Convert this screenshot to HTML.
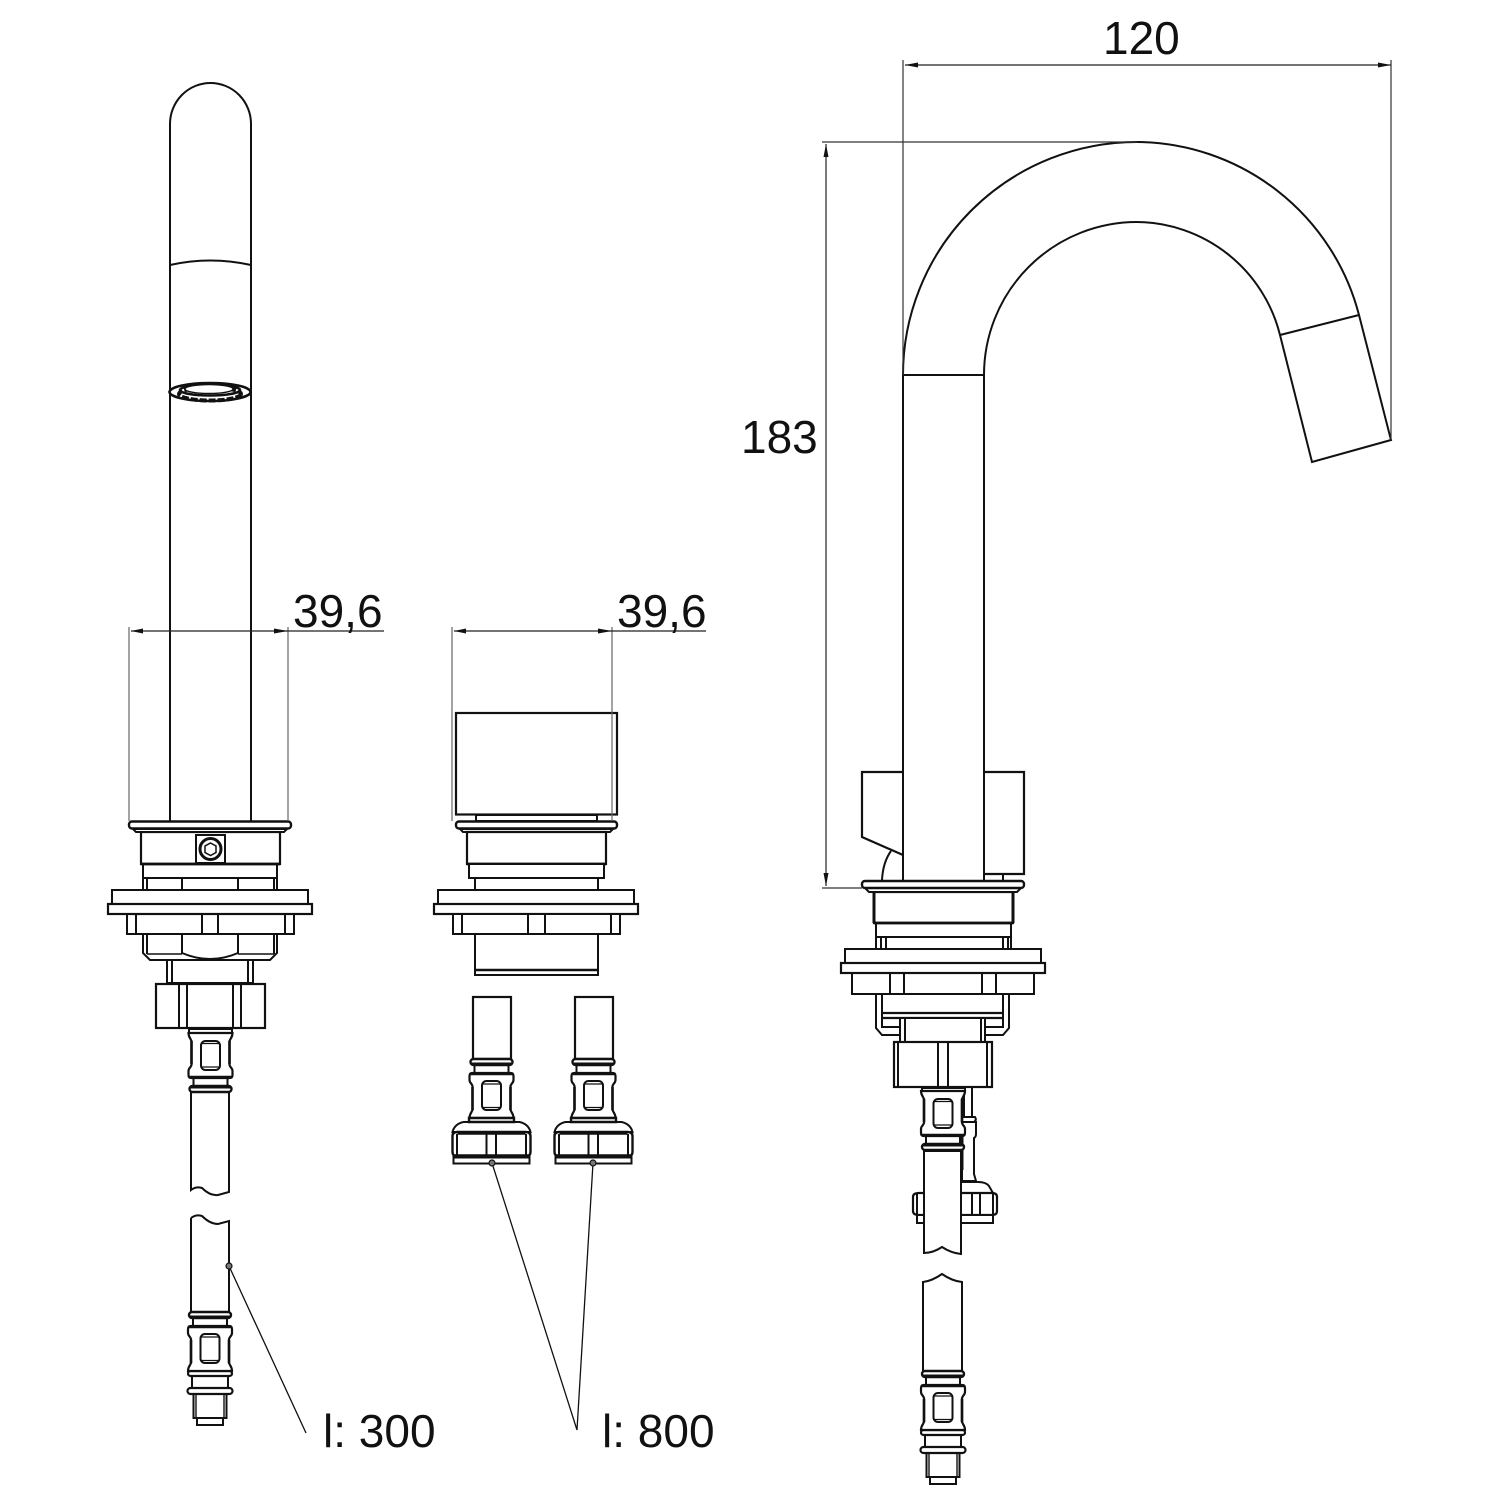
<!DOCTYPE html>
<html><head><meta charset="utf-8"><style>
html,body{margin:0;padding:0;background:#fff}
svg{display:block}
text{font-family:"Liberation Sans",sans-serif;font-size:46px;fill:#111}
</style></head><body>
<svg width="1500" height="1500" viewBox="0 0 1500 1500" xmlns="http://www.w3.org/2000/svg">
<defs>
<g id="c" fill="#fff" stroke="#111" stroke-width="2">
<path d="M-17 -8V1M17 -8V1" />
<path d="M-19 0H19Q22 0 22 3V7Q22 9 20 11L19 13V37L20 39Q22 42 22 45H-22Q-22 42 -20 39L-19 37V13L-20 11Q-22 9 -22 7V3Q-22 0 -19 0Z" stroke-width="2.2"/>
<path d="M-22 1H22" stroke-width="2.5"/>
<rect x="-21" y="-14" width="42" height="6" rx="3" stroke-width="2.4"/>
<path d="M-21 -9.5H21" stroke-width="2"/>
<rect x="-9.5" y="8" width="19" height="29" rx="4.5" stroke-width="2"/>
<path d="M-9 11H9M-9 34.5H9" stroke-width="1.2"/>
<path d="M-19 14V37M19 14V37" stroke-width="2.6"/>
</g>
<g id="tail" fill="#fff" stroke="#111" stroke-width="2">
<path d="M-16.5 66V92H16.5V66Z" stroke-width="2"/>
<path d="M-14 68V92M14 68V92" stroke-width="1.4"/>
<rect x="-13" y="92" width="26" height="7"/>
<path d="M-18 48V63M18 48V63"/>
<rect x="-22" y="45" width="44" height="5" rx="2.5" stroke-width="2.2"/>
<rect x="-22.5" y="62" width="45" height="6" rx="3" stroke-width="2.2"/>
</g>
<g id="nut" fill="#fff" stroke="#111" stroke-width="2">
<rect x="-38" y="1157" width="76" height="6.5"/>
<path d="M-28 1122H28Q37 1124 39 1132H-39Q-37 1124 -28 1122Z"/>
<path d="M-34 1132Q-39 1132 -39 1136V1152Q-39 1156 -34 1157H34Q39 1156 39 1152V1136Q39 1132 34 1132Z" stroke-width="2.4"/>
<path d="M-34.5 1134V1155M34.5 1134V1155M-5 1134V1155M4.5 1134V1155" stroke-width="2"/>
<path d="M-34 1133.500H34M-39 1155.500H39" stroke-width="2.400"/>
<path d="M-39 1157H38" stroke-width="3"/>
<path d="M-22.500 1118H22.500V1122H-22.500Z" stroke-width="2.400"/>
</g>
</defs>

<!-- Left spout -->
<g fill="none" stroke="#111" stroke-width="2">
<path d="M170 821V124A40.500 41 0 0 1 251 124V821"/>
<path d="M170 265Q210 256 251 265"/>
<ellipse cx="210" cy="392" rx="40.500" ry="9" stroke-width="2.600"/>
<ellipse cx="210" cy="394" rx="31" ry="6.500" stroke-width="4" stroke-dasharray="7 2"/>
<ellipse cx="210" cy="390" rx="30" ry="5.500" stroke-width="2.600"/>
<ellipse cx="209" cy="389" rx="24" ry="4.500" fill="#fff" stroke-width="1.400"/>
</g>

<!-- Left base -->
<g fill="#fff" stroke="#111" stroke-width="2">
<rect x="167" y="959" width="86" height="25"/><path d="M172 960V983M248 960V983" />
<path d="M143 934V953L150 960H270L277 953V934Z"/><path d="M147 934V954M182 934V954M238 934V954M274 934V954"/>
<path d="M182 953Q210 965 238 953" />
<path d="M147 954H182M238 954H274" stroke-width="1.500"/>
<rect x="127" y="914" width="167" height="20"/><path d="M136 914V934M202 914V934M218 914V934M285 914V934"/>
<rect x="143" y="864" width="134" height="26"/><path d="M143 878H277M147 878V890M182 878V890M238 878V890M274 878V890"/>
<rect x="112" y="890" width="196" height="14"/><rect x="108" y="904" width="204" height="10" stroke-width="2.200"/>
<path d="M141 832H280V864H141Z" stroke-width="2.200"/><path d="M141 864H280" stroke-width="2.800"/>
<rect x="196" y="835" width="29" height="28"/><circle cx="210.500" cy="849" r="10.500" stroke-width="3"/><path d="M210.500 843L216 846V852.500L210.500 855.500L205 852.500V846Z" stroke-width="1.500"/>
<path d="M133 829H287L284 832H136Z"/>
<rect x="129" y="821.500" width="162" height="7" rx="3" stroke-width="2.400"/>
<rect x="156" y="984" width="109" height="44" stroke-width="2.200"/><path d="M179 984V1028M187 984V1028M233 984V1028M241 984V1028"/>
<path d="M167 983.500H253" stroke-width="3"/>
<path d="M191 1092V1190Q196 1186 202 1188Q210 1196 218 1195L229 1192V1092"/>
<path d="M191 1218Q196 1214 202 1216Q210 1224 218 1224L229 1221V1312M191 1218V1312" fill="#fff"/>
</g>
<g fill="#fff" stroke="#111" stroke-width="2">
<rect x="189" y="1029" width="43" height="4"/>
<use href="#c" transform="translate(210.500 1078) scale(1 -1)"/>
<use href="#tail" transform="translate(210 1326)"/><use href="#c" transform="translate(210 1326)"/>
</g>

<!-- Middle -->
<g fill="#fff" stroke="#111" stroke-width="2">
<rect x="456" y="713" width="161" height="101.500" stroke-width="2.200"/>
<rect x="476" y="815" width="121" height="6"/>
<rect x="456" y="821.500" width="161" height="7" rx="3" stroke-width="2.400"/>
<path d="M460 829H613L610 832H463Z"/>
<path d="M467 832H606V864H467Z" stroke-width="2.200"/><path d="M467 864H606" stroke-width="2.800"/>
<rect x="469" y="864" width="135" height="14"/>
<rect x="475" y="878" width="123" height="12"/>
<rect x="438" y="890" width="196" height="14"/><rect x="434" y="904" width="204" height="10" stroke-width="2.200"/>
<rect x="453" y="914" width="167" height="20"/><path d="M462 914V934M528 914V934M545 914V934M611 914V934"/>
<rect x="475" y="934" width="123" height="41"/><path d="M475 970H598" stroke-width="2.500"/>
</g>
<g fill="#fff" stroke="#111" stroke-width="2">
<rect x="473" y="997" width="38" height="62" stroke-width="2.200"/>
<use href="#c" transform="translate(491.500 1073)"/>
<use href="#nut" transform="translate(491.500 0)"/>
<rect x="575" y="997" width="38" height="62" stroke-width="2.200"/>
<use href="#c" transform="translate(593.500 1073)"/>
<use href="#nut" transform="translate(593.500 0)"/>
</g>

<!-- Right spout -->
<g fill="#fff" stroke="#111" stroke-width="2">
<path d="M903 880V375A234 233 0 0 1 1137 142A231 231 0 0 1 1359 315L1391 440L1312 462L1280 335A149 149 0 0 0 1137 222A153 153 0 0 0 984 375V880" fill="none"/>
<path d="M903 375H984M1280 335L1359 315" fill="none"/>
<path d="M903 772H862V837L903 855" fill="none" stroke-width="2.200"/>
<path d="M891 851Q883 862 882 880" fill="none"/>
<path d="M984 772H1024V874H984" fill="none" stroke-width="2.200"/>
<path d="M1003 874V880" fill="none"/>
<path d="M876 1027V994H1009V1028L1003 1035H985V1018H900V1035H882L876 1028Z"/>
<path d="M882 994V1027H900M1003 994V1027H985"/>
<path d="M882 1013H1003" stroke-width="2.200"/><path d="M882 1018H1003" stroke-width="2.200"/>
<rect x="900" y="1018" width="85" height="24"/><path d="M905 1018V1042M981 1018V1042"/>
<rect x="894" y="1042" width="98" height="45" stroke-width="2.200"/><path d="M898 1042V1087M938 1042V1087M948 1042V1087M987 1042V1087"/>
<rect x="852" y="973" width="182" height="21"/><path d="M890 973V994M904 973V994M982 973V994M996 973V994"/>
<rect x="876" y="923" width="135" height="26"/><path d="M876 937H1011M881 937V949M886 937V949M1003 937V949M1008 937V949"/>
<rect x="845" y="949" width="196" height="14"/><rect x="841" y="963" width="204" height="10" stroke-width="2.200"/>
<path d="M874 892H1013V923H874Z" stroke-width="2.200"/><path d="M874 892V923M1013 892V923" stroke-width="3"/><path d="M874 923H1013" stroke-width="2.800"/>
<path d="M865 888H1021L1017 892H869Z"/>
<rect x="862" y="881" width="162" height="7" rx="3" stroke-width="2.400"/>
</g>
<!-- Right lower connector & back nut -->
<g fill="#fff" stroke="#111" stroke-width="2">
<path d="M972 1087V1117M964 1087V1117"/>
<path d="M962 1117H975Q977 1120 974 1122H962Z"/>
<path d="M968 1122H976V1134Q976 1137 974 1138V1174L976 1181H962V1122Z"/>
<path d="M963 1182H978Q986 1182 989 1186L993 1193H931Q934 1186 937 1182Z"/>
<path d="M919 1193H992Q997 1193 997 1197V1211Q997 1215 992 1215H919Q913 1215 913 1211V1197Q913 1193 919 1193Z" stroke-width="2.200"/>
<path d="M917 1193V1215M972 1193V1215M980 1193V1215M993 1193V1215"/>
<rect x="917" y="1215" width="76" height="8"/>
<path d="M962 1137V1170" stroke-width="3"/>
<path d="M924 1151V1253Q933 1253 942 1247Q951 1253 961 1254V1151Z"/>
<rect x="922" y="1088" width="43" height="3"/>
<use href="#c" transform="translate(943 1136) scale(1 -1)"/>
<path d="M923 1282Q932 1281 942 1274Q952 1281 962 1282V1371H923Z"/>
<use href="#tail" transform="translate(943 1385)"/><use href="#c" transform="translate(943 1385)"/>
</g>

<!-- Dimensions -->
<g fill="none" stroke="#444" stroke-width="1.200">
<path d="M129 627V821M288 627V821M452 627V821M612 627V821" stroke="#666"/>
<path d="M903 60V375M1391 60V440M822 142H1137M822 888H862" stroke="#333"/>
<path d="M131 631H384M454 631H706M905 65H1391M826 144V886" stroke="#222"/>
<path d="M229 1266L306 1433M492 1163L577 1430M593 1163L577 1430" stroke="#111" stroke-width="1.300"/>
</g>
<g fill="#111" stroke="none">
<path d="M131 631L143 628.500V633.500ZM288 631L274 628.500V633.500Z"/>
<path d="M454 631L466 628.500V633.500ZM612 631L598 628.500V633.500Z"/>
<path d="M905 65L918 62.500V67.500ZM1391 65L1378 62.500V67.500Z"/>
<path d="M826 144L823.500 157H828.500ZM826 886L823.500 873H828.500Z"/>
</g>
<g fill="#777" stroke="#111" stroke-width="1.200">
<circle cx="229" cy="1266" r="3"/><circle cx="492" cy="1163" r="3"/><circle cx="593" cy="1163" r="3"/>
</g>
<text x="1103" y="54">120</text>
<text x="741" y="453">183</text>
<text x="293" y="627">39,6</text>
<text x="617" y="627">39,6</text>
<text x="323" y="1447">l: 300</text>
<text x="602" y="1447">l: 800</text>
</svg>
</body></html>
